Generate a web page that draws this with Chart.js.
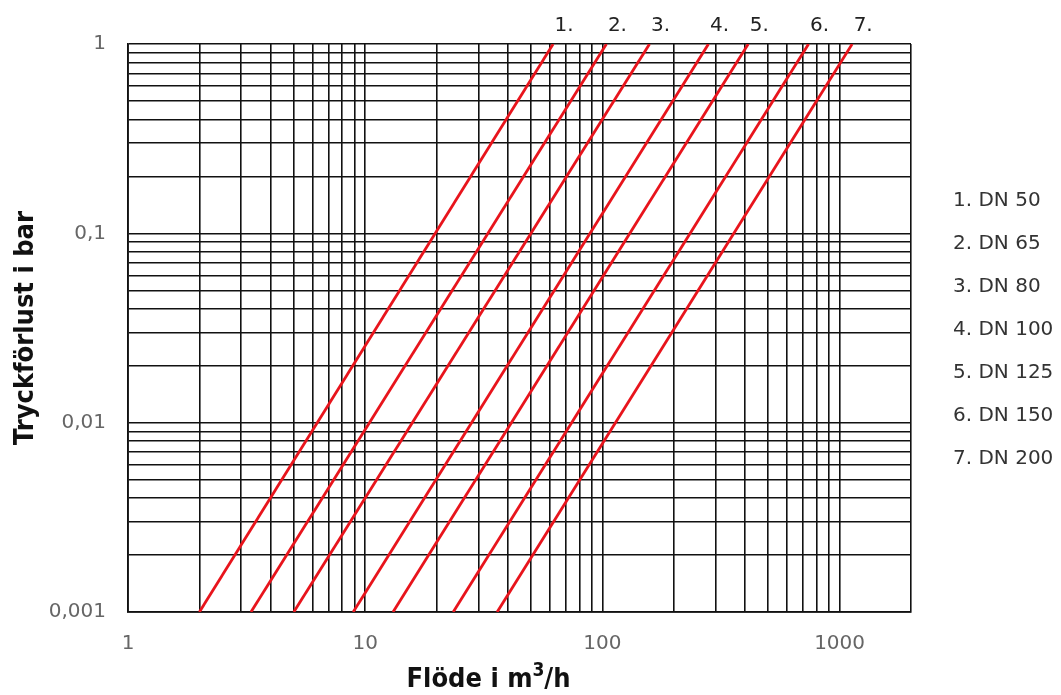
<!DOCTYPE html>
<html>
<head>
<meta charset="utf-8">
<script src="https://cdn.jsdelivr.net/npm/chart.js@4.4.1/dist/chart.umd.min.js"></script>
<style>
  html, body { margin: 0; padding: 0; background: #fff; }
  #wrap { width: 1061px; height: 695px; position: relative; }
</style>
</head>
<body>
<div id="wrap"><canvas id="chart"></canvas></div>
<script>
// Series: each valve line is straight on log-log paper, read at both edges
const lineTags = ['1.', '2.', '3.', '4.', '5.', '6.', '7.'];
const legendLabels = ['1. DN 50', '2. DN 65', '3. DN 80', '4. DN 100', '5. DN 125', '6. DN 150', '7. DN 200'];
const flowAtMinLoss = [2.0, 3.3, 5.0, 8.9, 13.1, 23.5, 36];   // m3/h at 0,001 bar
const flowAtMaxLoss = [62, 104, 158, 280, 412, 740, 1130];     // m3/h at 1 bar
const lossMin = 0.001;
const lossMax = 1;

// Axis ticks
const xMin = 1;
const xMax = 2000;
const xLabelValues = [1, 10, 100, 1000];
const xLabelTexts = ['1', '10', '100', '1000'];
const yLabelValues = [0.001, 0.01, 0.1, 1];
const yLabelTexts = ['0,001', '0,01', '0,1', '1'];

const TITLE_FONT = 'bold 27px "Liberation Sans Narrow", "DejaVu Sans Condensed", sans-serif';

// grid lines on 1..9 of each decade
const logGrid = (min, max) => {
  const out = [];
  for (let e = Math.floor(Math.log10(min)); e <= Math.ceil(Math.log10(max)); e++) {
    for (let k = 1; k < 10; k++) {
      const v = Number((k * Math.pow(10, e)).toPrecision(6));
      if (v >= min * 0.999 && v <= max * 1.001) out.push(v);
    }
  }
  return out;
};

const findLabel = (value, values, texts) => {
  const i = values.findIndex(v => Math.abs(Math.log10(v) - Math.log10(value)) < 1e-6);
  return i >= 0 ? texts[i] : '';
};

const RED = '#e8141c';
const GRID = '#111';

const datasets = lineTags.map((tag, i) => ({
  label: legendLabels[i],
  data: [{ x: flowAtMinLoss[i], y: lossMin }, { x: flowAtMaxLoss[i], y: lossMax }],
  borderColor: RED,
  backgroundColor: RED,
  borderWidth: 2.8,
  pointRadius: 0,
  fill: false,
  tension: 0
}));

// numbers above the lines, DN list on the right, x title with a real superscript
const annotations = {
  id: 'annotations',
  afterDatasetsDraw(chart) {
    const { ctx, chartArea, scales } = chart;
    ctx.save();
    ctx.fillStyle = '#222';
    ctx.font = '20px "DejaVu Sans", sans-serif';
    ctx.textAlign = 'center';
    ctx.textBaseline = 'middle';
    lineTags.forEach((tag, i) => {
      const x = scales.x.getPixelForValue(flowAtMaxLoss[i]) + 11;
      ctx.fillText(tag, x, chartArea.top - 18);
    });
    ctx.fillStyle = '#333';
    ctx.textAlign = 'left';
    legendLabels.forEach((txt, i) => {
      ctx.fillText(txt, chartArea.right + 42, chartArea.top + 157 + i * 43);
    });

    // x axis title: "Flöde i m" + sup "3" + "/h"
    ctx.fillStyle = '#111';
    ctx.textBaseline = 'alphabetic';
    const supFont = 'bold 19px "Liberation Sans Narrow", "DejaVu Sans Condensed", sans-serif';
    ctx.font = TITLE_FONT;
    const a = 'Flöde i m', c = '/h';
    const wa = ctx.measureText(a).width, wc = ctx.measureText(c).width;
    ctx.font = supFont;
    const wb = ctx.measureText('3').width;
    const total = wa + wb + wc;
    const cx = (chartArea.left + chartArea.right) / 2 - 31;
    let x0 = cx - total / 2;
    const base = chart.height - 8;
    ctx.font = TITLE_FONT;
    ctx.fillText(a, x0, base);
    ctx.font = supFont;
    ctx.fillText('3', x0 + wa, base - 11);
    ctx.font = TITLE_FONT;
    ctx.fillText(c, x0 + wa + wb, base);
    ctx.restore();
  }
};

new Chart(document.getElementById('chart'), {
  type: 'line',
  data: { datasets },
  options: {
    responsive: true,
    maintainAspectRatio: false,
    animation: false,
    layout: { padding: { left: 0, right: 150, top: 44, bottom: 0 } },
    plugins: {
      legend: { display: false },
      tooltip: { enabled: false }
    },
    scales: {
      x: {
        type: 'logarithmic',
        min: xMin,
        max: xMax,
        afterBuildTicks: (scale) => { scale.ticks = logGrid(xMin, xMax).map(v => ({ value: v })); },
        afterFit: (scale) => { scale.height = 83; },
        grid: { color: GRID, lineWidth: 1.6, drawTicks: false },
        border: { color: GRID, width: 1.8 },
        ticks: {
          autoSkip: false,
          maxRotation: 0,
          padding: 20,
          color: '#666',
          font: { family: '"DejaVu Sans", sans-serif', size: 20 },
          callback: (value) => findLabel(value, xLabelValues, xLabelTexts)
        },
        title: { display: false }
      },
      y: {
        type: 'logarithmic',
        min: lossMin,
        max: lossMax,
        afterBuildTicks: (scale) => { scale.ticks = logGrid(lossMin, lossMax).map(v => ({ value: v })); },
        afterFit: (scale) => { scale.width = 128; },
        grid: { color: GRID, lineWidth: 1.6, drawTicks: false },
        border: { color: GRID, width: 1.8 },
        ticks: {
          autoSkip: false,
          padding: 22,
          color: '#666',
          font: { family: '"DejaVu Sans", sans-serif', size: 20 },
          callback: (value) => findLabel(value, yLabelValues, yLabelTexts)
        },
        title: {
          display: true,
          text: 'Tryckförlust i bar',
          color: '#111',
          font: { family: '"Liberation Sans Narrow", "DejaVu Sans Condensed", sans-serif', size: 27, weight: 'bold' },
          padding: { top: 10, bottom: 0 }
        }
      }
    }
  },
  plugins: [annotations]
});
</script>
</body>
</html>
